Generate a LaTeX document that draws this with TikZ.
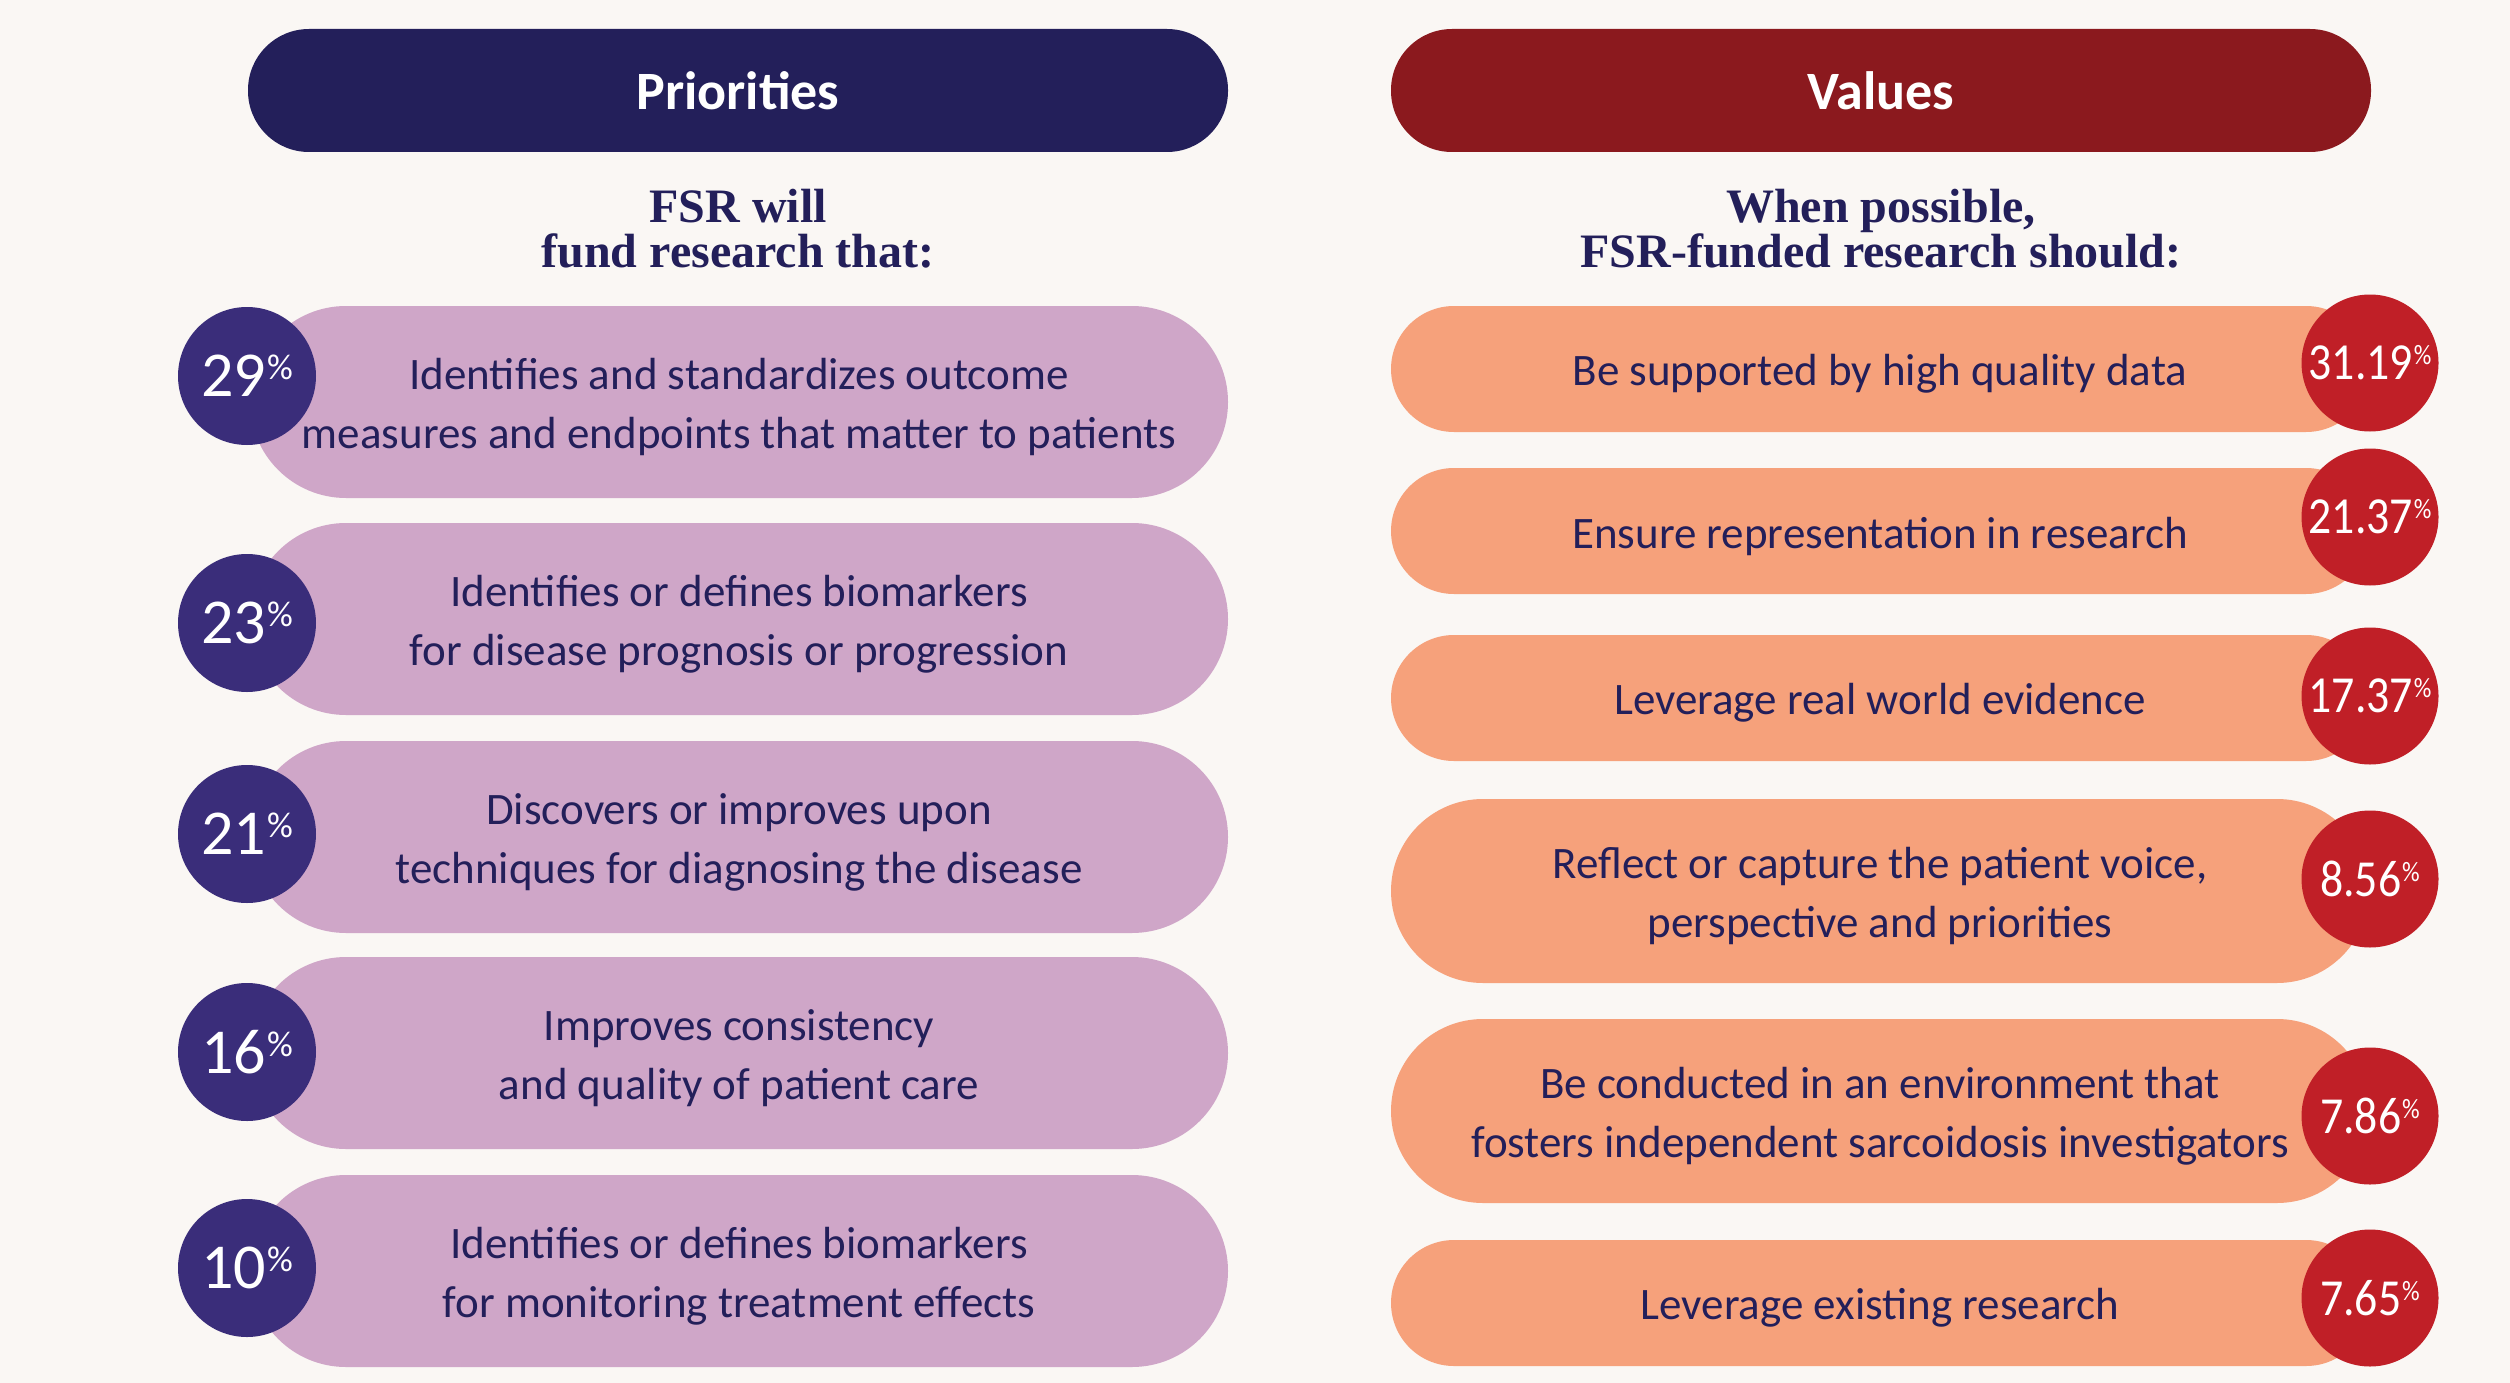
\documentclass[tikz,border=0pt]{standalone}
\usepackage{fontspec}
\setmainfont{Carlito}
\newfontfamily\subfont{Liberation Serif}
\definecolor{bg}{HTML}{FAF7F4}
\definecolor{navyhdr}{HTML}{231F5A}
\definecolor{redhdr}{HTML}{8B191E}
\definecolor{lav}{HTML}{CFA6C8}
\definecolor{pcirc}{HTML}{3A2D7A}
\definecolor{salmon}{HTML}{F6A17B}
\definecolor{vcirc}{HTML}{C01F27}
\definecolor{ink}{HTML}{231F5A}
\newcommand\pctA[1]{#1\kern1pt\raisebox{17pt}{\fontsize{36}{36}\selectfont\%}}
\newcommand\pctB[1]{\scalebox{0.88}[1]{#1\kern1pt\raisebox{15pt}{\fontsize{28}{28}\selectfont\%}}}
\begin{document}
\begin{tikzpicture}[x=1pt,y=-1pt,
  hdr/.style={rectangle, rounded corners=61pt, minimum width=980pt, minimum height=123pt, inner sep=0pt, text=white, font=\fontsize{54}{60}\selectfont\bfseries},
  subt/.style={align=center, text=ink, inner sep=0pt, font=\subfont\fontsize{48}{45}\selectfont\bfseries},
  ppill/.style={rectangle, rounded corners=96pt, fill=lav, minimum width=978pt, minimum height=192pt, inner sep=0pt},
  vpill/.style={rectangle, rounded corners=63pt, fill=salmon, minimum width=978pt, minimum height=126pt, inner sep=0pt},
  vpilltall/.style={vpill, rounded corners=92pt, minimum height=184pt},
  ptext/.style={align=center, text=ink, inner sep=0pt, yshift=-5pt, font=\fontsize{45}{59}\selectfont},
  pcircle/.style={circle, fill=pcirc, minimum size=138pt, inner sep=0pt, text=white, font=\fontsize{64}{64}\selectfont},
  vcircle/.style={circle, fill=vcirc, minimum size=137pt, inner sep=0pt, text=white, font=\fontsize{52}{52}\selectfont}
]
\fill[bg] (0,0) rectangle (2510,1383);
\useasboundingbox (0,0) rectangle (2510,1383);

% headers
\node[hdr, fill=navyhdr] (hp) at (738,90.5) {Priorities};
\node[hdr, fill=redhdr] (hv) at (1881,90.5) {Values};

\node[subt] (sp) at (738,229) {FSR will\\fund research that:};
\node[subt] (sv) at (1881,229) {When possible,\\FSR-funded research should:};

% priorities
\node[ppill] (p1) at (739,402) {};
\node[ppill] (p2) at (739,619) {};
\node[ppill] (p3) at (739,837) {};
\node[ppill] (p4) at (739,1053) {};
\node[ppill] (p5) at (739,1271) {};
\node[ptext] (pt1) at (p1.center) {Identifies and standardizes outcome\\measures and endpoints that matter to patients};
\node[ptext] (pt2) at (p2.center) {Identifies or defines biomarkers\\for disease prognosis or progression};
\node[ptext] (pt3) at (p3.center) {Discovers or improves upon\\techniques for diagnosing the disease};
\node[ptext] (pt4) at (p4.center) {Improves consistency\\and quality of patient care};
\node[ptext] (pt5) at (p5.center) {Identifies or defines biomarkers\\for monitoring treatment effects};

\node[pcircle] (c1) at (247,376) {\pctA{29}};
\node[pcircle] (c2) at (247,623) {\pctA{23}};
\node[pcircle] (c3) at (247,834) {\pctA{21}};
\node[pcircle] (c4) at (247,1052) {\pctA{16}};
\node[pcircle] (c5) at (247,1268) {\pctA{10}};

% values
\node[vpill] (v1) at (1880,369) {};
\node[vpill] (v2) at (1880,531) {};
\node[vpill] (v3) at (1880,698) {};
\node[vpilltall] (v4) at (1880,891) {};
\node[vpilltall] (v5) at (1880,1111) {};
\node[vpill] (v6) at (1880,1303) {};
\node[ptext] (vt1) at (v1.center) {Be supported by high quality data};
\node[ptext] (vt2) at (v2.center) {Ensure representation in research};
\node[ptext] (vt3) at (v3.center) {Leverage real world evidence};
\node[ptext] (vt4) at (v4.center) {Reflect or capture the patient voice,\\perspective and priorities};
\node[ptext] (vt5) at (v5.center) {Be conducted in an environment that\\fosters independent sarcoidosis investigators};
\node[ptext] (vt6) at (v6.center) {Leverage existing research};

\node[vcircle] (d1) at (2370,363) {\pctB{31.19}};
\node[vcircle] (d2) at (2370,517) {\pctB{21.37}};
\node[vcircle] (d3) at (2370,696) {\pctB{17.37}};
\node[vcircle] (d4) at (2370,879) {\pctB{8.56}};
\node[vcircle] (d5) at (2370,1116) {\pctB{7.86}};
\node[vcircle] (d6) at (2370,1298) {\pctB{7.65}};
\end{tikzpicture}
\end{document}
